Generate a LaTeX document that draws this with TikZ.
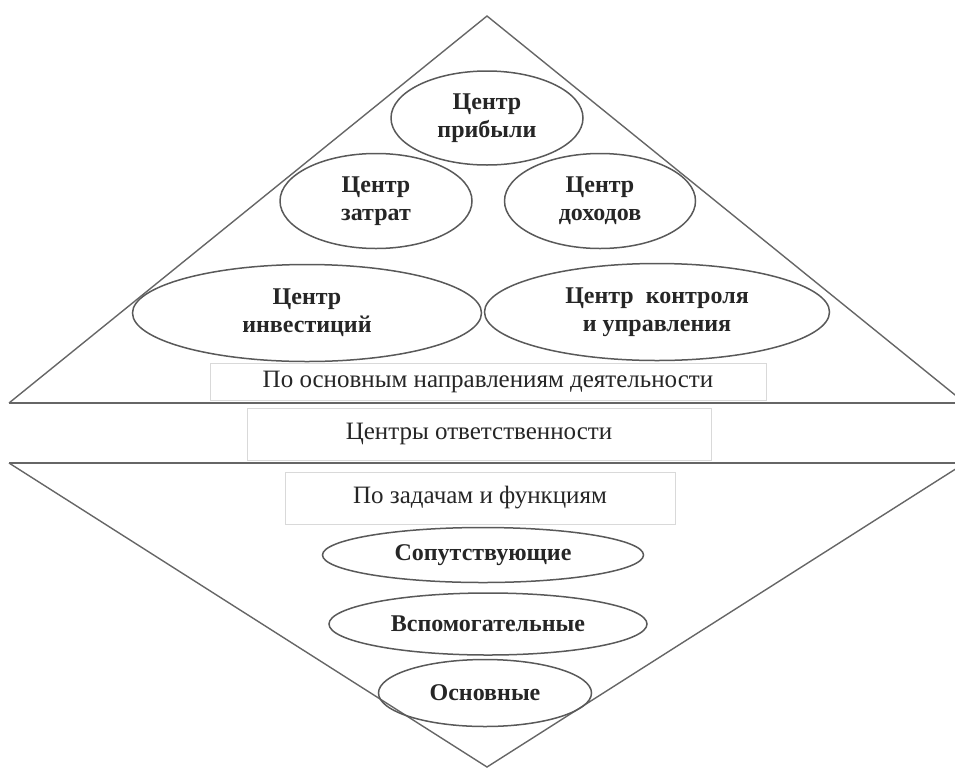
\documentclass[tikz,border=0pt]{standalone}
\usepackage{fontspec}
\setmainfont{Liberation Serif}
\usetikzlibrary{shapes.geometric}
\begin{document}
\begin{tikzpicture}[x=1pt,y=-1pt,
  tri/.style={draw=black!60,line width=1.4pt,line join=miter},
  base/.style={draw=black!60,line width=2.8pt},
  oval/.style={ellipse,draw=black!65,line width=1.5pt,inner sep=0pt,align=center,
    font=\fontsize{24}{28}\selectfont\bfseries,text=black!85},
  lbl/.style={draw=black!15,line width=0.8pt,fill=white,inner sep=0pt,
    font=\fontsize{25}{28}\selectfont,text=black!85}]
\useasboundingbox (0,0) rectangle (955,769);
% upper triangle
\coordinate (apex) at (487,16);
\coordinate (bl) at (9,403);
\coordinate (br) at (965,403);
\draw[tri] (bl) -- (apex) -- (br);
\draw[base] (9,403) -- (960,403);
% lower triangle
\coordinate (tl) at (9,463);
\coordinate (tr) at (965,463);
\coordinate (bot) at (487,767);
\draw[tri] (tl) -- (bot) -- (tr);
\draw[draw=black!60,line width=2.2pt] (9,463) -- (960,463);
% labels
\node[lbl,minimum width=556pt,minimum height=37pt] (l1) at (488,381.5) {По основным направлениям деятельности};
\node[lbl,minimum width=464pt,minimum height=52pt] (l2) at (479,434) {Центры ответственности};
\node[lbl,minimum width=390pt,minimum height=52pt] (l3) at (480,498) {По задачам и функциям};
% upper ellipses
\node[oval,minimum width=192pt,minimum height=94pt] (e1) at (487,118) {Центр\\прибыли};
\node[oval,minimum width=192pt,minimum height=95pt] (e2) at (376,201) {Центр\\затрат};
\node[oval,minimum width=191pt,minimum height=95pt] (e3) at (600,201) {Центр\\доходов};
\node[oval,minimum width=349pt,minimum height=97pt] (e4) at (307,313) {Центр\\инвестиций};
\node[oval,minimum width=345pt,minimum height=97pt] (e5) at (657,312) {Центр\enspace контроля\\и управления};
% lower ellipses
\node[oval,minimum width=321pt,minimum height=55pt] (f1) at (483,555) {Сопутствующие};
\node[oval,minimum width=318pt,minimum height=62pt] (f2) at (488,624) {Вспомогательные};
\node[oval,minimum width=213pt,minimum height=67pt] (f3) at (485,693) {Основные};
\end{tikzpicture}
\end{document}
